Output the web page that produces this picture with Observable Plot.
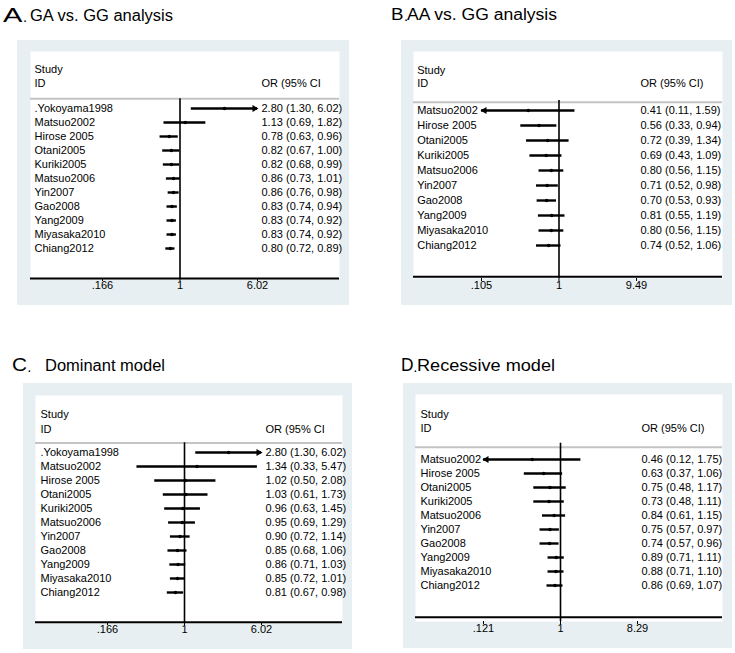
<!DOCTYPE html>
<html><head><meta charset="utf-8">
<script src="https://cdn.jsdelivr.net/npm/d3@7"></script>
<script src="https://cdn.jsdelivr.net/npm/@observablehq/plot@0.6"></script>
<style>
body{margin:0;background:#fff;}
#wrap{position:relative;width:735px;height:653px;overflow:hidden;font-family:"Liberation Sans",Arial,Helvetica,sans-serif;color:#000;}
.panel{position:absolute;}
.panel svg{display:block;}
.t{position:absolute;white-space:nowrap;line-height:1;transform-origin:0 0;display:block;}
</style></head><body><div id="wrap"></div>
<script>
// ---- data ----
const studiesAC = [".Yokoyama1998","Matsuo2002","Hirose 2005","Otani2005","Kuriki2005","Matsuo2006","Yin2007","Gao2008","Yang2009","Miyasaka2010","Chiang2012"];
const studiesBD = ["Matsuo2002","Hirose 2005","Otani2005","Kuriki2005","Matsuo2006","Yin2007","Gao2008","Yang2009","Miyasaka2010","Chiang2012"];

// A. GA vs. GG
const orA = [2.80,1.13,0.78,0.82,0.82,0.86,0.86,0.83,0.83,0.83,0.80];
const loA = [1.30,0.69,0.63,0.67,0.68,0.73,0.76,0.74,0.74,0.74,0.72];
const hiA = [6.02,1.82,0.96,1.00,0.99,1.01,0.98,0.94,0.92,0.92,0.89];
const ticksA = [0.1661,1,6.02];
const tickLabelsA = [".166","1","6.02"];

// B. AA vs. GG
const orB = [0.41,0.56,0.72,0.69,0.80,0.71,0.70,0.81,0.80,0.74];
const loB = [0.1054,0.33,0.39,0.43,0.56,0.52,0.53,0.55,0.56,0.52];
const hiB = [1.59,0.94,1.34,1.09,1.15,0.98,0.93,1.19,1.15,1.06];
const ticksB = [0.1054,1,9.49];
const tickLabelsB = [".105","1","9.49"];

// C. Dominant
const orC = [2.80,1.34,1.02,1.03,0.96,0.95,0.90,0.85,0.86,0.85,0.81];
const loC = [1.30,0.33,0.50,0.61,0.63,0.69,0.72,0.68,0.71,0.72,0.67];
const hiC = [6.02,5.47,2.08,1.73,1.45,1.29,1.14,1.06,1.03,1.01,0.98];
const ticksC = [0.1661,1,6.02];
const tickLabelsC = [".166","1","6.02"];

// D. Recessive
const orD = [0.46,0.63,0.75,0.73,0.84,0.75,0.74,0.89,0.88,0.86];
const loD = [0.1206,0.37,0.48,0.48,0.61,0.57,0.57,0.71,0.71,0.69];
const hiD = [1.75,1.06,1.17,1.11,1.15,0.97,0.96,1.11,1.10,1.07];
const ticksD = [0.1206,1,8.29];
const tickLabelsD = [".121","1","8.29"];

const letters = ["A","B","C","D"];
const titles = ["GA vs. GG analysis","AA vs. GG analysis","Dominant model","Recessive model"];
const colHeaders = ["OR (95% CI","OR (95% CI)","OR (95% CI","OR (95% CI)"];

// ---- layout (pixels) ----
const layouts = [
  {left:17, top:40, w:332, h:265, mL:13, mR:10, mT:11, mB:27, inL:72, inR:82, inT:57, inB:30, hdr:47.3, gap:9.7, sDx:4, s1:14, s2:28,
   tL:3.3, tB:21.7, fL:20, wL:19.4, tX:30, wT:143},
  {left:401, top:40, w:331, h:265, mL:12, mR:10, mT:11, mB:27, inL:68, inR:86, inT:57.3, inB:31.3, hdr:49, gap:8.3, sDx:3.7, s1:14.3, s2:28,
   tL:391.2, tB:20.7, fL:17, wL:12.5, tX:406.7, wT:150},
  {left:23, top:383, w:329, h:266, mL:12, mR:10, mT:12, mB:27, inL:72, inR:81, inT:56.7, inB:29.7, hdr:47.3, gap:9.4, sDx:5, s1:15, s2:29.3,
   tL:12, tB:371.7, fL:18, wL:15, tX:45, wT:120},
  {left:403, top:383, w:329, h:265, mL:12, mR:10, mT:11, mB:27, inL:68, inR:85, inT:61, inB:31.7, hdr:48.7, gap:12.3, sDx:5, s1:15.3, s2:29.3,
   tL:400.5, tB:371.7, fL:18, wL:12.5, tX:416.5, wT:138}
];

const panels = [
  {studies: studiesAC, or: orA, lo: loA, hi: hiA, ticks: ticksA, tickLabels: tickLabelsA},
  {studies: studiesBD, or: orB, lo: loB, hi: hiB, ticks: ticksB, tickLabels: tickLabelsB},
  {studies: studiesAC, or: orC, lo: loC, hi: hiC, ticks: ticksC, tickLabels: tickLabelsC},
  {studies: studiesBD, or: orD, lo: loD, hi: hiD, ticks: ticksD, tickLabels: tickLabelsD}
];

const wrap = document.getElementById("wrap");
const FONT = '"Liberation Sans", Arial, Helvetica, sans-serif';
const near = (a, b) => Math.abs(Math.log(a / b)) < 0.01;

function addText(str, left, baseline, size, targetWidth) {
  const s = document.createElement("span");
  s.className = "t";
  s.textContent = str;
  s.style.fontSize = size + "px";
  s.style.left = left + "px";
  s.style.top = (baseline - 0.8465 * size) + "px";
  wrap.appendChild(s);
  const w = s.getBoundingClientRect().width;
  let sx = 1;
  if (targetWidth && w > 0) { sx = targetWidth / w; s.style.transform = `scaleX(${sx})`; }
  return w * sx;
}

panels.forEach((p, k) => {
  const L = layouts[k];
  const rows = p.studies.map((s, i) => ({
    study: s, or: p.or[i], lo: p.lo[i], hi: p.hi[i],
    label: `${p.or[i].toFixed(2)} (${p.lo[i].toFixed(2)}, ${p.hi[i].toFixed(2)})`,
    arrowR: near(p.hi[i], p.ticks[2]), arrowL: near(p.lo[i], p.ticks[0])
  }));
  const maxTick = p.ticks[2];
  const tickRows = p.ticks.map((t, i) => ({t, label: p.tickLabels[i]}));

  const chart = Plot.plot({
    width: L.w, height: L.h,
    marginLeft: L.mL, marginRight: L.mR, marginTop: L.mT, marginBottom: L.mB,
    style: {background: "#e8eff2", fontFamily: FONT, fontSize: "11px", color: "#000", overflow: "visible"},
    x: {type: "log", domain: [p.ticks[0], p.ticks[2]], insetLeft: L.inL, insetRight: L.inR},
    y: {type: "point", domain: p.studies, padding: 0, insetTop: L.inT, insetBottom: L.inB, axis: null},
    marks: [
      Plot.frame({fill: "white", stroke: "none"}),
      Plot.ruleY([p.studies[0]], {dy: -L.gap, stroke: "#c4c4c4", strokeWidth: 2}),
      Plot.ruleX([1], {insetTop: L.hdr, stroke: "#000", strokeWidth: 1.6}),
      Plot.ruleY(rows, {y: "study", x1: "lo", x2: "hi", stroke: "#000", strokeWidth: 2.4}),
      Plot.dot(rows.filter(r => r.arrowR), {x: "hi", y: "study", symbol: "triangle", rotate: 90, r: 2.6, fill: "#000", dx: -3}),
      Plot.dot(rows.filter(r => r.arrowL), {x: "lo", y: "study", symbol: "triangle", rotate: -90, r: 2.6, fill: "#000", dx: 3}),
      Plot.dot(rows, {x: "or", y: "study", r: 1.8, fill: "#000"}),
      Plot.ruleY([p.studies[p.studies.length - 1]], {dy: L.inB, stroke: "#000", strokeWidth: 2}),
      Plot.axisX({ticks: p.ticks, tickSize: 3, tickFormat: () => "", stroke: "#000", label: null}),
      Plot.text(tickRows, {x: "t", text: "label", frameAnchor: "bottom", lineAnchor: "top", dy: 2.5, fontSize: 11, fill: "#000"}),
      Plot.text(rows, {y: "study", text: "study", frameAnchor: "left", dx: L.sDx, textAnchor: "start", fontSize: 11, fill: "#000"}),
      Plot.text(rows, {y: "study", x: () => maxTick, text: "label", dx: 4, textAnchor: "start", fontSize: 11, fill: "#000"}),
      Plot.text(["Study"], {text: d => d, frameAnchor: "top-left", dx: L.sDx, dy: L.s1, textAnchor: "start", fontSize: 11, fill: "#000"}),
      Plot.text(["ID"], {text: d => d, frameAnchor: "top-left", dx: L.sDx, dy: L.s2, textAnchor: "start", fontSize: 11, fill: "#000"}),
      Plot.text([colHeaders[k]], {text: d => d, x: () => maxTick, frameAnchor: "top", dx: 4, dy: L.s2, textAnchor: "start", fontSize: 11, fill: "#000"})
    ]
  });

  const div = document.createElement("div");
  div.className = "panel";
  div.style.left = L.left + "px";
  div.style.top = L.top + "px";
  div.appendChild(chart);
  wrap.appendChild(div);

  const lw = addText(letters[k], L.tL, L.tB, L.fL, L.wL);
  addText(".", L.tL + lw + 0.3, L.tB, 15);
  addText(titles[k], L.tX, L.tB, 16, L.wT);
});
</script>
</body></html>
